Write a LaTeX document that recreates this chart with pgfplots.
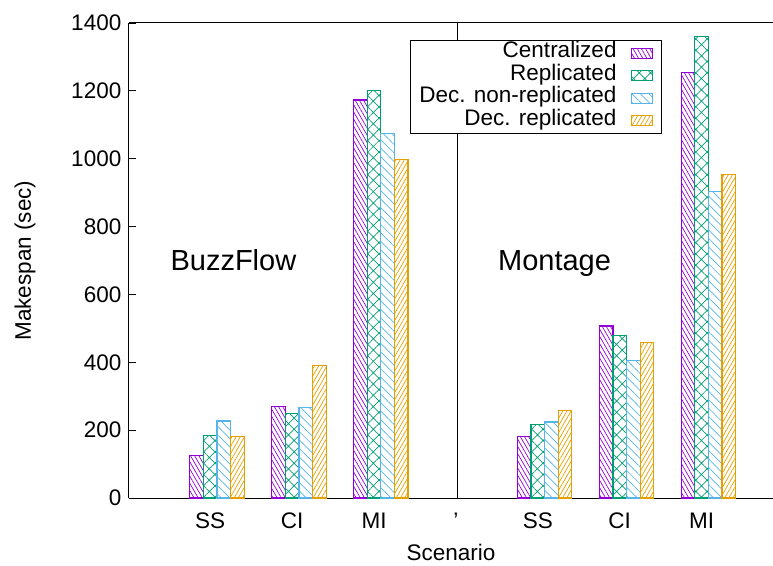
\documentclass[border=0pt]{standalone}
\usepackage{fontspec}
\setmainfont{Liberation Sans}
\usepackage{pgfplots}
\pgfplotsset{compat=1.18}
\usetikzlibrary{patterns.meta}
\definecolor{cpurple}{HTML}{9400D3}
\definecolor{cgreen}{HTML}{009E73}
\definecolor{cblue}{HTML}{56B4E9}
\definecolor{corange}{HTML}{E69F00}
\begin{document}
\fontsize{22.5}{26}\selectfont
\begin{tikzpicture}
\useasboundingbox (-129pt,-67pt) rectangle (644pt,498pt);
\begin{axis}[
  at={(0pt,0pt)}, anchor=south west,
  scale only axis, width=644pt, height=475pt,
  xmin=-0.9915, xmax=6.8713, ymin=0, ymax=1400,
  axis y line*=left,
  /pgf/number format/assume math mode=true,
  /pgf/number format/1000 sep={},
  ytick={0,200,...,1400},
  xtick={0,1,2,3,4,5,6},
  xticklabels={SS,CI,MI,',SS,CI,MI},
  xtick style={draw=none},
  tick align=inside,
  major tick length=7pt,
  tick style={black, line width=0.8pt},
  axis line style={black, line width=1pt},
  xticklabel style={yshift=-7pt},
  every axis x label/.style={at={(axis description cs:0.5,-0.1326)}, anchor=base},
  every axis y label/.style={at={(axis description cs:-0.1615,0.5)}, rotate=90, anchor=center},
  xlabel={Scenario},
  ylabel={Makespan (sec)},
  legend plot pos=right,
  legend cell align=right,
  legend image code/.code={\draw[#1, line width=1.1pt] (0pt,-5pt) rectangle (21pt,5pt);},
  legend style={at={(0.8277,0.9642)}, anchor=north east, draw=black, line width=0.8pt,
    column sep=14pt, inner xsep=9pt, inner ysep=1.5pt,
    nodes={inner sep=0pt, text height=16pt, text depth=6.5pt}},
  clip=false,
]
\addplot[ybar, bar width=13.6pt, bar shift=-13.6pt, draw=cpurple, line width=1.2pt,
  pattern={Lines[angle=-60,distance=3.6pt,line width=0.7pt]}, pattern color=cpurple]
  coordinates {(0,126) (1,270) (2,1173) (4,181) (5,507) (6,1254)};
\addlegendentry{Centralized}
\addplot[ybar, bar width=13.6pt, bar shift=0pt, draw=cgreen, line width=1.2pt,
  pattern={Hatch[angle=45,distance=8pt,line width=0.7pt]}, pattern color=cgreen]
  coordinates {(0,185) (1,250) (2,1200) (4,216) (5,480) (6,1361)};
\addlegendentry{Replicated}
\addplot[ybar, bar width=13.6pt, bar shift=13.6pt, draw=cblue, line width=1.2pt,
  pattern={Lines[angle=-45,distance=6pt,line width=0.7pt]}, pattern color=cblue]
  coordinates {(0,227) (1,267) (2,1075) (4,224) (5,405) (6,903)};
\addlegendentry{Dec. non-replicated}
\addplot[ybar, bar width=13.6pt, bar shift=27.2pt, draw=corange, line width=1.2pt,
  pattern={Lines[angle=60,distance=3.6pt,line width=0.7pt]}, pattern color=corange]
  coordinates {(0,181) (1,391) (2,998) (4,259) (5,459) (6,953)};
\addlegendentry{Dec. replicated}
\addplot[black, line width=1pt, no marks, forget plot] coordinates {(3.02,0) (3.02,1400)};
\node[anchor=base, font=\fontsize{29}{34}\selectfont] at (axis cs:0.283,670) {BuzzFlow};
\node[anchor=base, font=\fontsize{29}{34}\selectfont] at (axis cs:4.204,670) {Montage};
\end{axis}
\end{tikzpicture}
\end{document}
